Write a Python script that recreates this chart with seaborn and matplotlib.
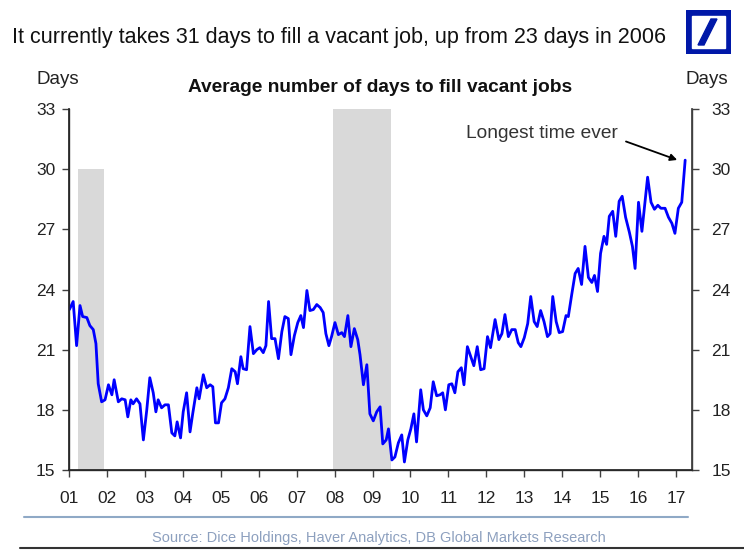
import seaborn as sns
import matplotlib.pyplot as plt
from matplotlib.lines import Line2D
from matplotlib.patches import Rectangle, Polygon

# -------------------------------
# DATA
# -------------------------------
years = [
    2001.01, 2001.11, 2001.20, 2001.29, 2001.36, 2001.47, 2001.55, 2001.64, 2001.71, 2001.77,
    2001.86, 2001.95, 2002.04, 2002.13, 2002.19, 2002.30, 2002.39, 2002.48, 2002.55, 2002.63,
    2002.69, 2002.78, 2002.87, 2002.96, 2003.05, 2003.13, 2003.22, 2003.29, 2003.35, 2003.44,
    2003.53, 2003.62, 2003.71, 2003.79, 2003.85, 2003.94, 2004.01, 2004.10, 2004.19, 2004.26,
    2004.37, 2004.43, 2004.54, 2004.63, 2004.72, 2004.79, 2004.86, 2004.94, 2005.02, 2005.11,
    2005.20, 2005.29, 2005.38, 2005.44, 2005.53, 2005.59, 2005.68, 2005.77, 2005.86, 2005.95,
    2006.03, 2006.12, 2006.19, 2006.26, 2006.34, 2006.43, 2006.52, 2006.61, 2006.69, 2006.78,
    2006.85, 2006.94, 2007.03, 2007.11, 2007.18, 2007.27, 2007.35, 2007.44, 2007.53, 2007.62,
    2007.70, 2007.77, 2007.85, 2007.92, 2008.01, 2008.10, 2008.19, 2008.26, 2008.35, 2008.43,
    2008.52, 2008.61, 2008.67, 2008.76, 2008.85, 2008.93, 2009.02, 2009.11, 2009.20, 2009.27,
    2009.36, 2009.42, 2009.51, 2009.59, 2009.68, 2009.77, 2009.84, 2009.93, 2010.01, 2010.09,
    2010.16, 2010.27, 2010.34, 2010.43, 2010.52, 2010.60, 2010.69, 2010.78, 2010.85, 2010.92,
    2011.01, 2011.09, 2011.17, 2011.25, 2011.34, 2011.41, 2011.50, 2011.59, 2011.67, 2011.76,
    2011.85, 2011.94, 2012.03, 2012.11, 2012.23, 2012.33, 2012.41, 2012.49, 2012.58, 2012.67,
    2012.76, 2012.84, 2012.91, 2013.00, 2013.09, 2013.17, 2013.26, 2013.34, 2013.43, 2013.52,
    2013.61, 2013.68, 2013.75, 2013.84, 2013.92, 2014.01, 2014.10, 2014.16, 2014.25, 2014.34,
    2014.42, 2014.51, 2014.60, 2014.69, 2014.78, 2014.85, 2014.93, 2015.01, 2015.10, 2015.17,
    2015.24, 2015.33, 2015.41, 2015.50, 2015.58, 2015.67, 2015.77, 2015.85, 2015.92, 2016.01,
    2016.10, 2016.18, 2016.25, 2016.34, 2016.43, 2016.52, 2016.60, 2016.71, 2016.80, 2016.89,
    2016.97, 2017.06, 2017.15, 2017.24,
]
days = [
    23.0, 23.4, 21.2, 23.2, 22.65, 22.6, 22.2, 22.0, 21.3, 19.3,
    18.4, 18.5, 19.25, 18.75, 19.5, 18.4, 18.55, 18.5, 17.65, 18.5,
    18.3, 18.55, 18.3, 16.5, 18.0, 19.6, 18.85, 17.9, 18.5, 18.1,
    18.25, 18.25, 16.85, 16.7, 17.4, 16.6, 17.9, 18.85, 16.9, 17.8,
    19.1, 18.55, 19.75, 19.1, 19.25, 19.15, 17.35, 17.35, 18.35, 18.55,
    19.1, 20.05, 19.9, 19.3, 20.65, 20.05, 20.0, 22.15, 20.8, 21.0,
    21.1, 20.85, 21.2, 23.4, 21.55, 21.55, 20.55, 21.9, 22.65, 22.55,
    20.75, 21.7, 22.35, 22.7, 22.1, 23.95, 22.95, 23.0, 23.25, 23.1,
    22.85, 21.8, 21.2, 21.65, 22.35, 21.75, 21.85, 21.65, 22.7, 21.15,
    22.05, 21.5, 20.75, 19.25, 20.25, 17.8, 17.45, 17.9, 18.15, 16.3,
    16.5, 17.05, 15.5, 15.65, 16.35, 16.75, 15.4, 16.5, 17.05, 17.8,
    16.4, 19.0, 18.0, 17.7, 18.1, 19.4, 18.7, 18.75, 18.85, 18.0,
    19.25, 19.3, 18.85, 19.9, 20.1, 19.25, 21.15, 20.65, 20.2, 21.15,
    20.0, 20.05, 21.65, 21.1, 22.5, 21.5, 21.8, 22.75, 21.65, 22.0,
    22.0, 21.35, 21.15, 21.6, 22.3, 23.65, 22.4, 22.15, 22.95, 22.4,
    21.65, 21.8, 23.65, 22.4, 21.85, 21.9, 22.7, 22.65, 23.75, 24.8,
    25.05, 24.25, 26.15, 24.6, 24.35, 24.7, 23.9, 25.8, 26.65, 26.25,
    27.65, 27.9, 26.65, 28.4, 28.65, 27.6, 26.85, 26.15, 25.05, 28.35,
    26.9, 28.35, 29.6, 28.35, 28.0, 28.2, 28.05, 28.05, 27.6, 27.3,
    26.8, 28.05, 28.35, 30.45,
]

# recession shading
recession_start = [2001.25, 2007.95]
recession_end = [2001.92, 2009.49]
recession_top = [30, 33]

year_ticks = list(range(2001, 2018))
year_labels = ["01", "02", "03", "04", "05", "06", "07", "08", "09",
               "10", "11", "12", "13", "14", "15", "16", "17"]
day_ticks = [15, 18, 21, 24, 27, 30, 33]

# -------------------------------
# STYLE
# -------------------------------
sns.set_theme(style="ticks")
plt.rcParams["font.family"] = ["Liberation Sans", "DejaVu Sans"]

W, H = 744, 553
fig = plt.figure(figsize=(W / 100, H / 100), dpi=100)
ax = fig.add_axes([69 / W, 1 - 470 / H, (692 - 69) / W, (470 - 109) / H])

# recession bars
widths = [e - s for s, e in zip(recession_start, recession_end)]
heights = [t - 15 for t in recession_top]
ax.bar(recession_start, heights, width=widths, bottom=15, align="edge",
       color="#d9d9d9", linewidth=0, zorder=1)

sns.lineplot(x=years, y=days, ax=ax, color="#0000ff", linewidth=2.0, zorder=3)

ax.set_xlim(2001, 2017.42)
ax.set_ylim(15, 33)
ax.set_xticks(year_ticks)
ax.set_xticklabels(year_labels)
ax.set_yticks(day_ticks)
ax.set_xlabel("")
ax.set_ylabel("")

spine_col = "#404040"
ax.spines["top"].set_visible(False)
for s in ["left", "right", "bottom"]:
    ax.spines[s].set_color(spine_col)
    ax.spines[s].set_linewidth(1.0)

ax.tick_params(axis="x", length=5, width=1, color=spine_col, pad=10,
               labelsize=12.5, labelcolor="#222222")
ax.tick_params(axis="y", length=5, width=1, color=spine_col, pad=5,
               labelsize=12.5, labelcolor="#222222")

# right hand axis
ax2 = ax.twinx()
ax2.set_ylim(15, 33)
ax2.set_yticks(day_ticks)
ax2.spines["top"].set_visible(False)
ax2.spines["right"].set_color(spine_col)
ax2.tick_params(axis="y", length=5, width=1, color=spine_col, pad=9,
                labelsize=12.5, labelcolor="#222222")

# annotation
ax.text(2011.46, 31.8, "Longest time ever", ha="left", va="center",
        fontsize=13.8, color="#333333")
ax.annotate("", xy=(2017.03, 30.46), xytext=(2015.68, 31.38),
            arrowprops=dict(arrowstyle="-|>", color="black", lw=1.3,
                            mutation_scale=10, shrinkA=0, shrinkB=0))

# titles
fig.text(12 / W, 1 - 38 / H,
         "It currently takes 31 days to fill a vacant job, up from 23 days in 2006",
         ha="left", va="center", fontsize=15.5, color="#111111")
fig.text(380 / W, 1 - 87 / H, "Average number of days to fill vacant jobs",
         ha="center", va="center", fontsize=13.8, fontweight="bold", color="#111111")
fig.text(37 / W, 1 - 80 / H, "Days", ha="left", va="center", fontsize=13.5, color="#222222")
fig.text(728 / W, 1 - 80 / H, "Days", ha="right", va="center", fontsize=13.5, color="#222222")

# footer
fig.add_artist(Line2D([24 / W, 688 / W], [1 - 517 / H, 1 - 517 / H],
                      color="#8fa9c6", lw=1.5))
fig.add_artist(Line2D([20 / W, 1.0], [1 - 548 / H, 1 - 548 / H],
                      color="#333333", lw=1.5))
fig.text(379 / W, 1 - 538 / H,
         "Source: Dice Holdings, Haver Analytics, DB Global Markets Research",
         ha="center", va="center", fontsize=10.5, color="#8da0bf")

# DB logo
lax = fig.add_axes([686 / W, 1 - 54 / H, 45 / W, 44 / H])
lax.set_xlim(0, 45)
lax.set_ylim(0, 44)
lax.axis("off")
lax.add_patch(Rectangle((0, 0), 45, 44, color="#0018a8"))
lax.add_patch(Rectangle((6, 6), 33, 32, color="white"))
lax.add_patch(Polygon([(12, 9), (18, 9), (31, 35), (25, 35)], closed=True, color="#0018a8"))

fig.savefig("out.png", dpi=100)
